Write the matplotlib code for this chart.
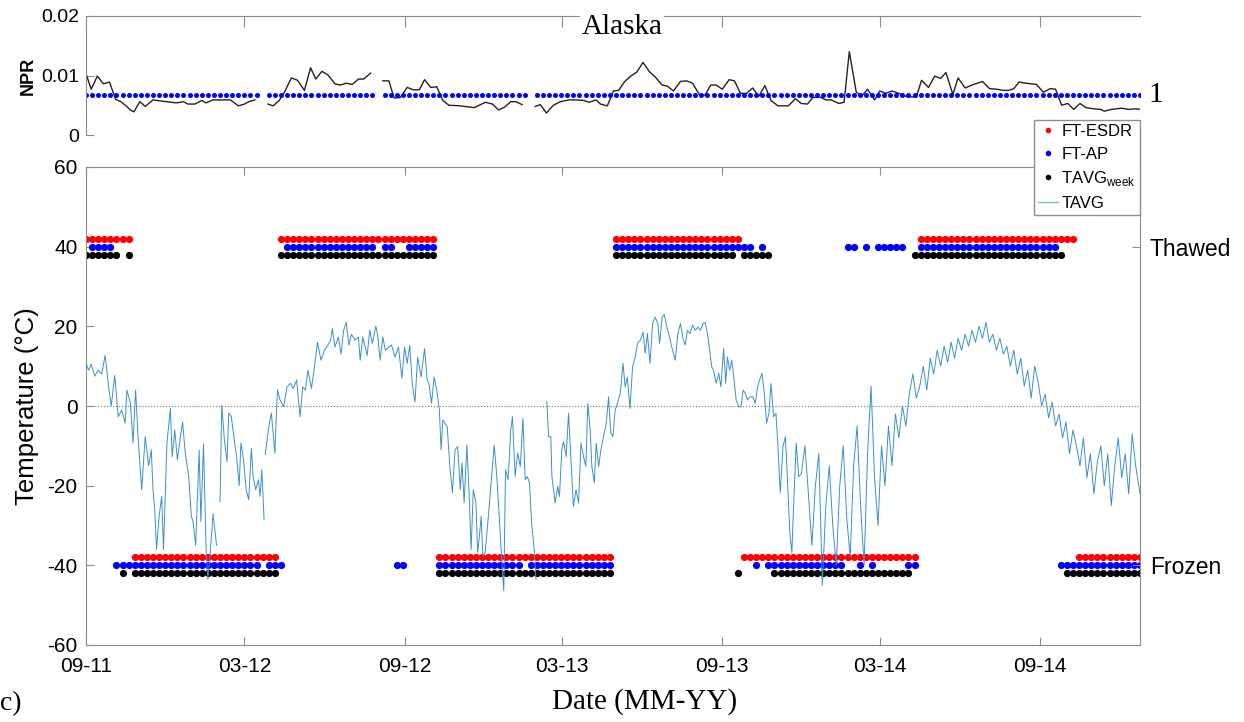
import numpy as np
import matplotlib.pyplot as plt
import matplotlib.dates as mdates
from matplotlib.lines import Line2D
from datetime import datetime

plt.rcParams['font.family'] = ['Liberation Sans', 'DejaVu Sans']
plt.rcParams['mathtext.fontset'] = 'custom'
plt.rcParams['mathtext.rm'] = 'Liberation Sans'
plt.rcParams['axes.unicode_minus'] = False

start = mdates.date2num(datetime(2011, 9, 1))
n_days = 1211
tick_dates = ['2011-09-01', '2012-03-01', '2012-09-01', '2013-03-01',
              '2013-09-01', '2014-03-01', '2014-09-01']

# NPR (top panel), days since 2011-09-01, nan = no data
npr_day = [0, 6, 13, 20, 27, 34, 40, 46, 51, 55, 62, 68, 77, 82, 92, 104, 112, 117, 125, 133,
           138, 146, 154, 166, 175, 182, 187, 194, 200,
           209, 215, 222, 228, 236, 243, 251, 258, 264, 271, 278, 286, 292, 299, 306, 313, 319, 327, 334,
           341, 348, 354, 361, 369, 376, 383, 389, 396, 403, 410, 417, 430, 446, 459, 467, 474, 481,
           488, 494, 501, 508,
           516, 522, 529, 537, 545, 555, 564, 572, 578, 586, 591, 599, 606, 612, 619, 626, 633, 640,
           647, 655, 662, 668, 675, 683, 690, 697, 705, 711, 718, 724, 731, 739, 745, 752, 759, 766,
           773, 780, 787, 795, 807, 815, 822, 829, 835, 843, 850, 856, 865, 871, 877, 885, 891, 898,
           906, 912, 919, 926, 934, 942, 948, 954, 960, 968, 975, 982, 988, 996, 1002, 1010, 1018,
           1030, 1038, 1046, 1054, 1060, 1066, 1072, 1080, 1092, 1100, 1108, 1114, 1121, 1128, 1135,
           1142, 1149, 1158, 1166, 1170, 1178, 1190, 1198, 1206, 1212]
npr_val = [0.0103, 0.0077, 0.0099, 0.0086, 0.0089, 0.0060, 0.0056, 0.0049, 0.0042, 0.0039, 0.0056,
           0.0048, 0.0059, 0.0058, 0.0056, 0.0054, 0.0056, 0.0052, 0.0052, 0.0058, 0.0054, 0.0059,
           0.0059, 0.0059, 0.0049, 0.0052, 0.0056, 0.0059, np.nan,
           0.0052, 0.0049, 0.0058, 0.0072, 0.0096, 0.0092, 0.0075, 0.0113, 0.0094, 0.0107, 0.0101,
           0.0086, 0.0084, 0.0087, 0.0085, 0.0094, 0.0094, 0.0104, np.nan,
           0.0091, 0.0091, 0.0062, 0.0063, 0.0080, 0.0076, 0.0076, 0.0093, 0.0080, 0.0081, 0.0058,
           0.0050, 0.0049, 0.0046, 0.0055, 0.0052, 0.0042, 0.0047, 0.0056, 0.0056, 0.0051, np.nan,
           0.0048, 0.0051, 0.0037, 0.0050, 0.0056, 0.0059, 0.0059, 0.0058, 0.0055, 0.0059, 0.0052,
           0.0049, 0.0074, 0.0075, 0.0090, 0.0099, 0.0106, 0.0122, 0.0107, 0.0096, 0.0084, 0.0082,
           0.0074, 0.0090, 0.0091, 0.0087, 0.0067, 0.0067, 0.0084, 0.0084, 0.0077, 0.0093, 0.0091,
           0.0070, 0.0070, 0.0079, 0.0065, 0.0083, 0.0058, 0.0049, 0.0049, 0.0061, 0.0053, 0.0052,
           0.0063, 0.0064, 0.0059, 0.0059, 0.0053, 0.0055, 0.0140, 0.0072, 0.0065, 0.0077, 0.0059,
           0.0074, 0.0070, 0.0074, 0.0070, 0.0065, 0.0064, 0.0064, 0.0092, 0.0080, 0.0099, 0.0095,
           0.0105, 0.0068, 0.0096, 0.0079, 0.0084, 0.0090, 0.0078, 0.0077, 0.0075, 0.0075, 0.0078,
           0.0089, 0.0087, 0.0085, 0.0072, 0.0078, 0.0077, 0.0050, 0.0053, 0.0043, 0.0053, 0.0046,
           0.0044, 0.0043, 0.0040, 0.0043, 0.0045, 0.0043, 0.0044, 0.0043]
npr_ref = 0.0068
npr_gap_weeks = [29, 48, 73]

# daily mean air temperature (TAVG), days since 2011-09-01, nan = gap
tavg_day = [0, 3, 6, 10, 14, 18, 22, 26, 29, 33, 37, 41, 45, 47, 51, 54, 57, 60, 64, 68, 72, 75, 77,
            79, 81, 84, 87, 89, 93, 97, 99, 102, 105, 108, 111, 114, 118, 121, 123, 126, 130, 132,
            135, 138, 140, 143, 146, 150, 152, 154, 156, 159, 162, 164, 167, 170, 173, 176, 178,
            181, 184, 187, 190, 192, 195, 198, 200, 202, 204.6, 205.5, 206, 209, 212, 213, 217,
            218, 220, 223, 227, 231, 235, 238, 242, 246, 249, 252, 255, 259, 263, 266, 270, 274,
            278, 281, 283, 286, 290, 293, 296, 299, 302, 305, 309, 313, 315, 318, 323, 326, 329,
            333, 335, 338, 341, 344, 348, 351, 355, 359, 363, 366, 369, 372, 375, 378, 381, 385,
            389, 392, 394, 397, 400, 403, 406, 408, 410, 415, 418, 421, 424, 427, 430, 432, 434.5,
            437.6, 440, 442.5, 445, 448, 450, 452, 454, 456, 458.6, 461, 463.6, 466, 469, 472,
            475, 478, 480, 482, 485, 488, 490, 493, 496, 499, 502, 504.6, 507, 509.6, 512, 515,
            517, 522, 529.5, 531.4, 534, 535.3, 539, 542, 544, 546.7, 548.7, 551.7, 554.4, 557,
            560, 563, 566, 568.6, 571.6, 574.3, 576.6, 579.3, 581.2, 584, 586.2, 589, 591.6,
            594.6, 597.7, 600.4, 603, 605.4, 608, 610.7, 613.8, 617, 619.5, 622, 625, 628, 631,
            634, 637, 640, 642.5, 645, 648, 651, 654, 657, 659, 662, 664.4, 667.4, 670.5, 673,
            677, 680, 683, 686, 688.5, 691, 694, 697, 700, 703, 706, 709, 711.5, 714, 716.5, 719,
            721, 724, 727, 729.5, 732.6, 735, 737, 739.5, 742, 745, 747, 750, 752.5, 755, 757.5,
            760, 763, 766, 769, 771.6, 774, 776.6, 779, 782, 784.7, 787, 790, 792.7, 794.6, 797.7,
            800.8, 803.5, 805.4, 807.3, 809, 811, 813, 816, 818.8,
            822, 826, 830, 834, 838, 842, 846, 850, 854, 858, 862, 866, 870, 874, 878, 882, 886,
            890, 894, 898, 902, 906, 910, 914, 918, 922, 926, 930, 934, 938, 942, 946, 950, 954,
            958, 962, 966, 970, 974, 978, 982, 986, 990, 994, 998, 1002, 1006, 1010, 1014, 1018,
            1022, 1026, 1030, 1034, 1038, 1042, 1046, 1050, 1054, 1058, 1062, 1066, 1070, 1074,
            1078, 1082, 1086, 1090, 1094, 1098, 1102, 1106, 1110, 1114, 1118, 1122, 1126, 1130,
            1134, 1138, 1142, 1146, 1150, 1154, 1158, 1162, 1166, 1170, 1174, 1178, 1182, 1186,
            1190, 1194, 1198, 1202, 1206, 1211]
tavg_val = [10.7, 9, 10.5, 7.5, 9, 8, 12.7, 4.8, 0, 7.7, -2.7, -1, -4.3, 4, 0.7, -9.3, 4, -8.5, -21,
            -7.7, -15, -11, -21, -26, -36, -27.7, -22.7, -36, -9.3, -0.6, -12.7, -6, -13.5, -8.5,
            -4, -11.8, -17.7, -27.7, -29, -35, -11, -29, -9.5, -36, -43.5, -36, -27, -35, np.nan,
            -24, 0.2, -8.5, -14, -1.8, -2.7, -8, -12.7, -20, -9.3, -13.5, -21, -23.5, -10.6, -17.7,
            -21, -18.5, -22.7, -16, -28.5, np.nan, -12.2, -6.8, -2.7, -1.8, -11.8, -6, 4, 1.5,
            -0.2, 4.8, 5.7, 4.4, 6.5, -2.7, 4.8, 4, 9, 4.4, 10.7, 16, 11.5, 14, 15.3, 16.5, 19.4,
            14.8, 17.3, 13, 19, 21, 15.3, 18, 16.5, 17.3, 11.5, 17.3, 12.7, 19, 15.7, 20, 18, 11.5,
            17.3, 14, 14.8, 15.3, 12.3, 14.8, 7, 14.8, 10.7, 15.3, 5.3, 1, 12.3, 7.3, 14.4, 6.5,
            5.7, 0.7, 7.3, 4, -1, -11, -3.5, -5.2, -15.2, -21.8, -11, -10.2, -21, -14.3, -24.3,
            -9.8, -21, -36, -21, -24.3, -36.8, -32.7, -27.7, -37.7, -36.8, -31, -24.3, -17.7, -9.8,
            -17.7, -28.5, -40, -46.4, -16, -18.5, -6, -2.7, -17.7, -11.8, -15.2, -3.1, -18.5,
            -17.7, -19.3, -29.3, -36, -43.5, np.nan, 1.1, -7.7, -7.7, -17.7, -24.3, -20.2, -22.7,
            -11, -8.9, -12.7, -1.8, -12.7, -25.2, -21, -24.3, -9.3, -12.7, -15.2, 0.7, -6, -15.2,
            -19.3, -9.3, -15.2, -11, -7.7, -4.3, 2.3, -6.8, -7.7, -1, 0.7, 3.2, 10.7, 4.8, 7.3,
            -0.6, 9.8, 12.3, 16, 16.5, 18.6, 13.2, 18.2, 10.7, 20.7, 22.3, 20.7, 15.7, 22.3, 23,
            19.8, 17.3, 14.8, 11.5, 18.2, 20.7, 16.9, 15.3, 19, 18.2, 20.3, 19, 19.8, 19, 20.7, 21,
            18.2, 14, 9.8, 9, 5.7, 8.2, 4.8, 14.4, 5.7, 12.3, 9, 11.5, 5.7, 1.5, -0.2, -0.2, 4,
            3.2, 1.5, 2.3, 2.3, 0.7, 4.8, 6.5, 8.2, 4, -4.3, -1.8, 5.7, -2.7, -1.8, -8.5, -21.8,
            -10.2, -7.7, -16, -25.2, -32.7, -36.8, -25.2, -9.3, -17.7,
            -17, -10, -22, -35, -20, -12, -45, -25, -15, -30, -40, -20, -10, -28, -38, -15, -5,
            -25, -40, -12, 5, -18, -30, -10, -20, -5, -15, -2, -8, 0, -5, 3, 8, 2, 5, 10, 4, 12,
            8, 14, 10, 15, 11, 16, 12, 17, 14, 18, 15, 19, 16, 20, 17, 21, 16, 18, 14, 17, 13, 15,
            10, 14, 8, 12, 5, 9, 2, 10, 6, 0, 3, -3, 1, -5, -2, -8, -4, -12, -6, -10, -15, -8,
            -18, -12, -22, -14, -10, -20, -12, -25, -15, -8, -18, -12, -22, -7, -15, -22]

# weekly freeze/thaw flags: week k is 2011-09-01 + 7k days, (first, last) week runs
esdr_thawed = [(0, 7), (32, 57), (87, 107), (137, 162)]
esdr_frozen = [(8, 31), (58, 86), (108, 136), (163, 173)]
ap_thawed = [(1, 4), (33, 47), (49, 50), (53, 57), (87, 109), (111, 111), (125, 126),
             (128, 128), (130, 134), (137, 159)]
ap_frozen = [(5, 28), (30, 32), (51, 52), (58, 71), (73, 86), (110, 110), (112, 124),
             (127, 127), (129, 129), (135, 136), (160, 173)]
week_thawed = [(0, 5), (7, 7), (32, 57), (87, 106), (108, 112), (136, 160)]
week_frozen = [(6, 6), (8, 31), (58, 86), (107, 107), (113, 135), (161, 173)]


def weeks(runs):
    k = [np.arange(a, b + 1) for a, b in runs]
    return start + 7 * np.concatenate(k)


gray = '#8c8c8c'
fig = plt.figure(figsize=(12.44, 7.22), dpi=100)
ax = fig.add_axes([86 / 1244, 1 - 645 / 722, 1054 / 1244, 478 / 722])
axn = fig.add_axes([86 / 1244, 1 - 135 / 722, 1054 / 1244, 119 / 722])
axn.patch.set_visible(False)

# ---- bottom panel
ax.axhline(0, color='#777777', ls=':', lw=0.8, zorder=1)
series = [('#ff0000', esdr_thawed, esdr_frozen, 42, -38),
          ('#0000ff', ap_thawed, ap_frozen, 40, -40),
          ('#000000', week_thawed, week_frozen, 38, -42)]
for c, th, fr, yt, yf in series:
    xt = weeks(th)
    xf = weeks(fr)
    ax.scatter(xt, np.full(len(xt), yt), s=27, color=c, lw=0, zorder=2)
    ax.scatter(xf, np.full(len(xf), yf), s=27, color=c, lw=0, zorder=2)
ax.plot(start + np.array(tavg_day), tavg_val, color='#3a8fd0', lw=0.7, zorder=3)

ax.set_xlim(start, start + n_days)
ax.set_ylim(-60, 60)
ax.set_yticks([-60, -40, -20, 0, 20, 40, 60])
xt_pos = [mdates.date2num(datetime.strptime(d, '%Y-%m-%d')) for d in tick_dates]
ax.set_xticks(xt_pos)
ax.xaxis.set_major_formatter(mdates.DateFormatter('%m-%y'))
ax.tick_params(direction='in', length=6, color=gray, labelsize=15, top=True, pad=6)
ax.tick_params(axis='x', pad=9)
for s in ax.spines.values():
    s.set_color(gray)
ax.set_ylabel('Temperature (°C)', fontsize=18.5, labelpad=6)

axr = ax.twinx()
axr.set_ylim(-60, 60)
axr.set_yticks([-40, 40])
axr.set_yticklabels(['Frozen', 'Thawed'])
axr.tick_params(direction='in', length=6, color=gray, labelsize=16.5, pad=7)
for s in axr.spines.values():
    s.set_visible(False)

# ---- top panel
axn.plot(start + np.array(npr_day), npr_val, color='#222222', lw=1.0)
kk = np.array([k for k in range(174) if k not in npr_gap_weeks])
axn.plot(start + 7 * kk, np.full(len(kk), npr_ref), ls='none', marker='o', ms=3.6,
         color='#0000ff', mew=0)
axn.set_xlim(start, start + n_days)
axn.set_ylim(0, 0.02)
axn.set_yticks([0, 0.01, 0.02])
axn.set_yticklabels(['0', '0.01', '0.02'])
axn.set_xticks(xt_pos)
axn.xaxis.tick_top()
axn.tick_params(axis='x', labeltop=False, direction='in', length=8, color=gray)
axn.tick_params(axis='y', direction='in', length=6, color=gray, labelsize=14, pad=5)
axn.spines['bottom'].set_visible(False)
axn.spines['right'].set_visible(False)
axn.spines['left'].set_color(gray)
axn.spines['top'].set_color(gray)
axn.set_ylabel('NPR', fontsize=13, fontweight='bold', labelpad=3)
axn.text(1.015, npr_ref, '1', transform=axn.get_yaxis_transform(), va='center', ha='center',
         fontsize=21, family='Liberation Serif')

fig.text(0.5, 1 - 27 / 722, 'Alaska', ha='center', va='center', fontsize=21,
         family='Liberation Serif', bbox=dict(facecolor='white', edgecolor='none', pad=1))
fig.text(645 / 1244, 1 - 702 / 722, 'Date (MM-YY)', ha='center', va='center', fontsize=21,
         family='Liberation Serif')
fig.text(0.0, 1 - 704 / 722, 'c)', ha='left', va='center', fontsize=20, family='Liberation Serif')

handles = [Line2D([], [], ls='none', marker='.', ms=6, color='#ff0000'),
           Line2D([], [], ls='none', marker='.', ms=6, color='#0000ff'),
           Line2D([], [], ls='none', marker='.', ms=6, color='#000000'),
           Line2D([], [], color='#7fb9d9', lw=1)]
labels = ['FT-ESDR', 'FT-AP', 'TAVG$_{\\mathrm{week}}$', 'TAVG']
leg = fig.legend(handles, labels, loc='upper right', bbox_to_anchor=(1140 / 1244, 1 - 120 / 722),
                 fancybox=False, edgecolor=gray, framealpha=1, handlelength=1.2,
                 handletextpad=0.2, borderpad=0.25, labelspacing=0.45, borderaxespad=0,
                 prop={'size': 12})
leg.get_frame().set_linewidth(1)

fig.savefig('out.png', dpi=100)
